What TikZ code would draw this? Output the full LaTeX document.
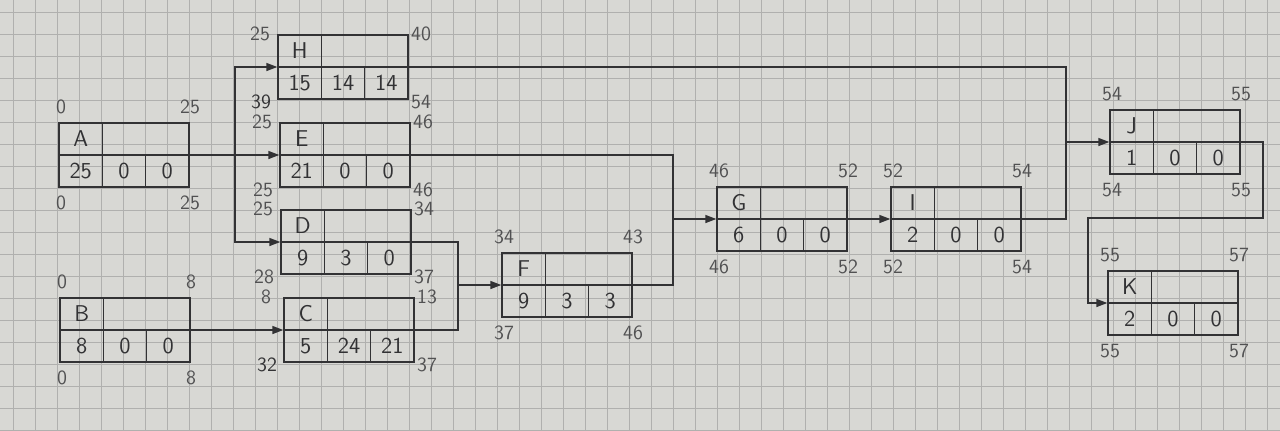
\documentclass[tikz,border=0pt]{standalone}
\usepackage{fontspec}
\usepackage{tikz}
\usetikzlibrary{arrows.meta,positioning,calc}

\definecolor{paper}{RGB}{216,216,212}
\definecolor{gridgray}{RGB}{176,176,174}
\definecolor{pencil}{RGB}{50,50,52}

% one activity box: name, x, y, label, duration, total float, free float
\newcommand{\taskbox}[7]{%
    \node (#1) [taskrect] at (#2,#3) {};
    \draw [boxline] (#1.west) -- (#1.east);
    \draw [boxline] (#2-21.7,#3-32) -- (#2-21.7,#3+32);
    \draw [boxline] (#2+21.7,#3) -- (#2+21.7,#3+32);
    \node (#1-n) [celltext] at (#2-43.3,#3-16) {#4};
    \node (#1-d) [celltext] at (#2-43.3,#3+16) {#5};
    \node (#1-s) [celltext] at (#2,#3+16) {#6};
    \node (#1-f) [celltext] at (#2+43.3,#3+16) {#7};
}
% early / late times above and below the corners
\newcommand{\outtimes}[7]{%
    \node (#1-es) [timetext] at (#2-63,#3-48) {#4};
    \node (#1-ef) [timetext] at (#2+66,#3-48) {#5};
    \node (#1-ls) [timetext] at (#2-63,#3+48) {#6};
    \node (#1-lf) [timetext] at (#2+66,#3+48) {#7};
}
% same, beside the corners
\newcommand{\sidetimes}[7]{%
    \node (#1-es) [timetext] at (#2-83,#3-33) {#4};
    \node (#1-ef) [timetext] at (#2+78,#3-33) {#5};
    \node (#1-ls) [timetext] at (#2-82,#3+35) {#6};
    \node (#1-lf) [timetext] at (#2+78,#3+35) {#7};
}

\begin{document}
\begin{tikzpicture}[x=0.02cm, y=-0.02cm, >={Triangle[length=2.2mm,width=1.6mm]},
    taskrect/.style={rectangle, draw=pencil, line width=0.8pt, minimum width=2.6cm, minimum height=1.28cm, inner sep=0pt},
    boxline/.style={draw=pencil, line width=0.8pt},
    celltext/.style={font=\sffamily\fontsize{13}{15}\selectfont, text=pencil, inner sep=0pt},
    timetext/.style={font=\sffamily\fontsize{11.5}{13}\selectfont, text=pencil!85, inner sep=0pt},
    link/.style={draw=pencil, line width=0.8pt}]
    % Paper
    \useasboundingbox (0,0) rectangle (1280,430);
    \fill [paper] (0,0) rectangle (1280,430);
    \foreach \gx in {13,35,...,1280} \draw [gridgray, line width=0.5pt] (\gx,0) -- (\gx,430);
    \foreach \gy in {12,34,...,430} \draw [gridgray, line width=0.5pt] (0,\gy) -- (1280,\gy);

    % Activities
    \taskbox{A}{124}{155}{A}{25}{0}{0}
    \taskbox{B}{125}{330}{B}{8}{0}{0}
    \taskbox{H}{343}{67}{H}{15}{14}{14}
    \taskbox{E}{345}{155}{E}{21}{0}{0}
    \taskbox{D}{346}{242}{D}{9}{3}{0}
    \taskbox{C}{349}{330}{C}{5}{24}{21}
    \taskbox{F}{567}{285}{F}{9}{3}{3}
    \taskbox{G}{782}{219}{G}{6}{0}{0}
    \taskbox{I}{956}{219}{I}{2}{0}{0}
    \taskbox{J}{1175}{142}{J}{1}{0}{0}
    \taskbox{K}{1173}{303}{K}{2}{0}{0}

    % Times
    \outtimes{A}{124}{155}{0}{25}{0}{25}
    \outtimes{B}{125}{330}{0}{8}{0}{8}
    \sidetimes{H}{343}{67}{25}{40}{\color{pencil}39}{54}
    \sidetimes{E}{345}{155}{25}{46}{25}{46}
    \sidetimes{D}{346}{242}{25}{34}{28}{37}
    \sidetimes{C}{349}{330}{8}{13}{\color{pencil}32}{37}
    \outtimes{F}{567}{285}{34}{43}{37}{46}
    \outtimes{G}{782}{219}{46}{52}{46}{52}
    \outtimes{I}{956}{219}{52}{54}{52}{54}
    \outtimes{J}{1175}{142}{54}{55}{54}{55}
    \outtimes{K}{1173}{303}{55}{57}{55}{57}

    % Links
    \coordinate (sA) at (235,155);
    \coordinate (sDC) at (458,285);
    \coordinate (sEF) at (673,219);
    \coordinate (sHI) at (1066,142);
    \coordinate (jk1) at (1263,218);
    \coordinate (jk2) at (1088,218);

    \draw [link, ->] (A) -- (E);
    \draw [link, ->] (sA) |- (H);
    \draw [link, ->] (sA) |- (D);
    \draw [link, ->] (B) -- (C);
    \draw [link] (D) -| (sDC);
    \draw [link] (C) -| (sDC);
    \draw [link, ->] (sDC) -- (F);
    \draw [link] (E) -| (sEF);
    \draw [link] (F) -| (sEF);
    \draw [link, ->] (sEF) -- (G);
    \draw [link, ->] (G) -- (I);
    \draw [link] (H) -| (sHI);
    \draw [link] (I) -| (sHI);
    \draw [link, ->] (sHI) -- (J);
    \draw [link, ->] (J) -| (jk1) -- (jk2) |- (K);
\end{tikzpicture}
\end{document}
